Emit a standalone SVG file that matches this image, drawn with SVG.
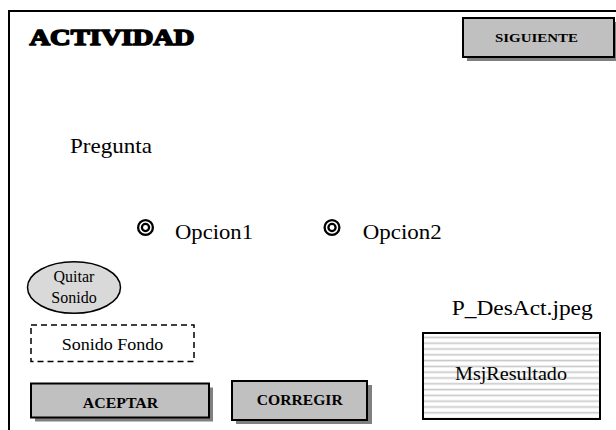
<svg xmlns="http://www.w3.org/2000/svg" width="616" height="430" viewBox="0 0 616 430">
<defs>
<style>
text{font-family:'Liberation Serif','DejaVu Serif',serif;fill:#000}
.b{font-weight:bold}
.btn{fill:#c0c0c0;stroke:#000;stroke-width:2}
.sh{fill:#808080}
.radio{fill:none;stroke:#000;stroke-width:2.3}
</style>
<pattern id="stripes" x="0" y="333" width="8" height="5.8" patternUnits="userSpaceOnUse">
<rect width="8" height="5.8" fill="#fff"/>
<rect y="3.6" width="8" height="1.6" fill="#c8c8c8"/>
</pattern>
</defs>
<rect width="616" height="430" fill="#fff"/>
<g id="frame">
<path d="M9,432 V11 H618" fill="none" stroke="#000" stroke-width="2"/>
</g>
<g id="titulo">
<text class="b" x="29.5" y="44.5" font-size="24" stroke="#000" stroke-width="1.6" stroke-linejoin="round" textLength="165" lengthAdjust="spacingAndGlyphs">ACTIVIDAD</text>
</g>
<g id="siguiente">
<rect class="sh" x="467" y="22" width="151" height="39"/>
<rect class="btn" x="463" y="18" width="151" height="39"/>
<text class="b" x="495" y="41.7" font-size="13" textLength="83" lengthAdjust="spacingAndGlyphs">SIGUIENTE</text>
</g>
<g id="pregunta">
<text x="70" y="153.3" font-size="21" textLength="82" lengthAdjust="spacingAndGlyphs">Pregunta</text>
</g>
<g id="opcion1">
<circle class="radio" cx="145.5" cy="227.5" r="7.4"/>
<circle class="radio" cx="145.5" cy="227.5" r="3.6"/>
<text x="175" y="239.3" font-size="21" textLength="78" lengthAdjust="spacingAndGlyphs">Opcion1</text>
</g>
<g id="opcion2">
<circle class="radio" cx="332" cy="227.5" r="7.4"/>
<circle class="radio" cx="332" cy="227.5" r="3.6"/>
<text x="362.7" y="239.3" font-size="21" textLength="79" lengthAdjust="spacingAndGlyphs">Opcion2</text>
</g>
<g id="quitarSonido">
<ellipse cx="74" cy="287.5" rx="46.5" ry="25.8" fill="#d9d9d9" stroke="#000" stroke-width="1.5"/>
<text x="74" y="281.7" font-size="16" text-anchor="middle">Quitar</text>
<text x="74" y="303.3" font-size="16" text-anchor="middle">Sonido</text>
</g>
<g id="sonidoFondo">
<rect x="31" y="325" width="163" height="36.5" fill="none" stroke="#000" stroke-width="1.5" stroke-dasharray="6,4"/>
<text x="61.7" y="350" font-size="16" textLength="101.5" lengthAdjust="spacingAndGlyphs">Sonido Fondo</text>
</g>
<g id="imagen">
<text x="451.7" y="315" font-size="21" textLength="141" lengthAdjust="spacingAndGlyphs">P_DesAct.jpeg</text>
</g>
<g id="msjResultado">
<rect x="423" y="333" width="177" height="86" fill="url(#stripes)" stroke="#000" stroke-width="2"/>
<text x="455" y="380" font-size="19" textLength="112" lengthAdjust="spacingAndGlyphs">MsjResultado</text>
</g>
<g id="aceptar">
<rect class="sh" x="35" y="387.5" width="178" height="34"/>
<rect class="btn" x="31" y="383.5" width="178" height="34"/>
<text class="b" x="82.7" y="407.7" font-size="14" textLength="75.6" lengthAdjust="spacingAndGlyphs">ACEPTAR</text>
</g>
<g id="corregir">
<rect class="sh" x="236" y="385" width="136" height="39"/>
<rect class="btn" x="232" y="381" width="135" height="39"/>
<text class="b" x="256.7" y="405" font-size="15" textLength="86" lengthAdjust="spacingAndGlyphs">CORREGIR</text>
</g>
<g id="connectors"></g>
</svg>
